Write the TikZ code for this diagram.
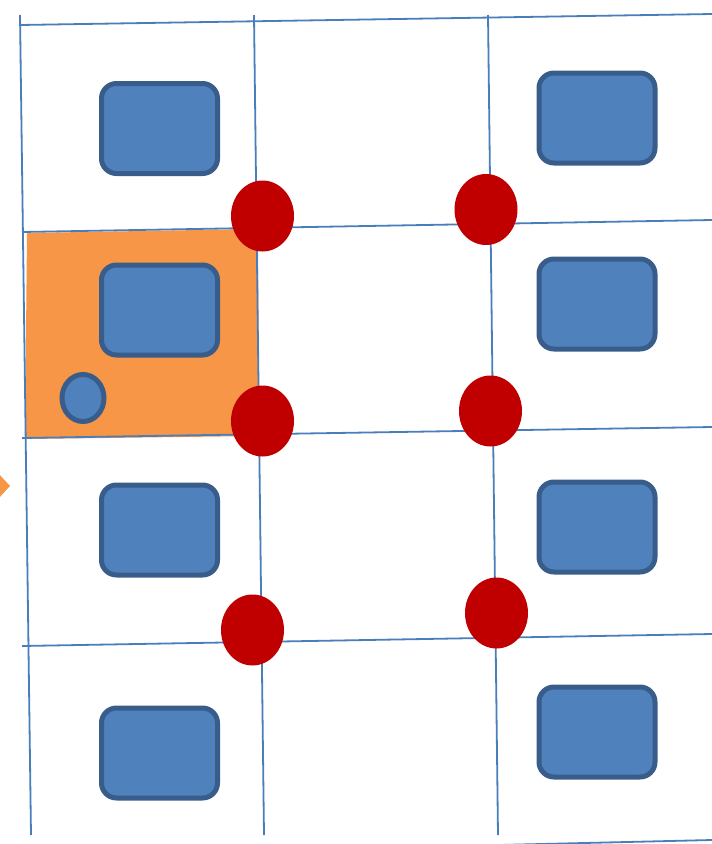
\documentclass[tikz,border=0pt]{standalone}
\usetikzlibrary{shapes.geometric}
\definecolor{gridblue}{HTML}{4A7EBB}
\definecolor{boxfill}{HTML}{4F81BD}
\definecolor{boxedge}{HTML}{385D8A}
\definecolor{dotred}{HTML}{C00000}
\definecolor{zoneorange}{HTML}{F79646}
\tikzset{
  gridline/.style={draw=gridblue, line width=1.8pt},
  bluebox/.style={draw=boxedge, fill=boxfill, line width=5pt, rounded corners=15pt,
    minimum width=116pt, minimum height=90pt, inner sep=0pt, rectangle},
  reddot/.style={ellipse, fill=dotred, draw=none, minimum width=63pt, minimum height=71pt, inner sep=0pt},
  smalldot/.style={ellipse, fill=boxfill, draw=boxedge, line width=5pt, minimum width=42pt, minimum height=47pt, inner sep=0pt}
}
\begin{document}
\begin{tikzpicture}[x=1pt,y=-1pt]
\useasboundingbox (0,0) rectangle (712,844);
\clip (0,0) rectangle (712,844);
% orange zone and marker
\fill[zoneorange] (27,233) -- (258,229) -- (259,436) -- (25,439) -- cycle;
\fill[zoneorange] (-2,473) -- (10,486) -- (-2,499) -- (-14,486) -- cycle;
% grid lines
\draw[gridline] (20,15) -- (31,835);
\draw[gridline] (254,15) -- (264,835);
\draw[gridline] (488,15) -- (498,835);
\draw[gridline] (20,25) -- (712,14);
\draw[gridline] (22,232) -- (712,220);
\draw[gridline] (22,438) -- (712,427);
\draw[gridline] (22,646) -- (712,634);
\draw[gridline] (30,856) -- (712,840);
% blue boxes
\node[bluebox] (b1) at (159.5,128.5) {};
\node[bluebox] (b2) at (159.5,310) {};
\node[bluebox] (b3) at (159.5,530) {};
\node[bluebox] (b4) at (159.5,753) {};
\node[bluebox] (b5) at (597,118) {};
\node[bluebox] (b6) at (597,304) {};
\node[bluebox] (b7) at (597,527) {};
\node[bluebox] (b8) at (597,732) {};
\node[smalldot] (s1) at (83,398) {};
% red dots
\node[reddot] (r1) at (262.5,216) {};
\node[reddot] (r2) at (486,209.5) {};
\node[reddot] (r3) at (262.5,421) {};
\node[reddot] (r4) at (490.5,411) {};
\node[reddot] (r5) at (252.5,630) {};
\node[reddot] (r6) at (496.5,613) {};
\end{tikzpicture}
\end{document}
